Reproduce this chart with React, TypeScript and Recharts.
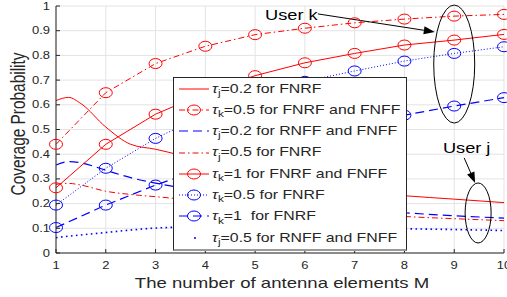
import React from 'react';
import { LineChart, Line, XAxis, YAxis, CartesianGrid, Legend, ReferenceDot, ReferenceLine } from 'recharts';

// antenna elements M (markers sit on these)
const elements = [1, 2, 3, 4, 5, 6, 7, 8, 9, 10];
const smoothM = [1, 1.25, 1.5, 2, 2.5, 3, 4, 5, 6, 7, 8, 9, 10];
const yTicks = [0, 0.1, 0.2, 0.3, 0.4, 0.5, 0.6, 0.7, 0.8, 0.9, 1];

// user j curves (smoothM)
const tauJ02Fnrf = [0.617, 0.63, 0.605, 0.51, 0.44, 0.42, 0.37, 0.32, 0.28, 0.25, 0.232, 0.218, 0.204];
const tauJ02Rnff = [0.356, 0.37, 0.365, 0.335, 0.305, 0.283, 0.25, 0.225, 0.2, 0.18, 0.163, 0.151, 0.141];
const tauJ05Fnrf = [0.278, 0.282, 0.275, 0.25, 0.237, 0.228, 0.21, 0.195, 0.18, 0.163, 0.148, 0.139, 0.131];
const tauJ05Rnff = [0.062, 0.068, 0.073, 0.083, 0.093, 0.101, 0.106, 0.106, 0.104, 0.101, 0.098, 0.095, 0.091];

// user k curves (elements)
const tauK05Both = [0.44, 0.649, 0.767, 0.837, 0.884, 0.91, 0.932, 0.947, 0.959, 0.966];
const tauK1Both = [0.264, 0.44, 0.562, 0.648, 0.718, 0.77, 0.808, 0.842, 0.862, 0.885];
const tauK05Fnrf = [0.194, 0.343, 0.464, 0.56, 0.64, 0.695, 0.737, 0.777, 0.808, 0.835];
const tauK1Fnrf = [0.103, 0.194, 0.275, 0.345, 0.405, 0.46, 0.51, 0.558, 0.595, 0.629];

const RED = '#ff0000';
const BLUE = '#0000ff';
const INK = '#262626';
const FONT = '"Liberation Sans", Arial, sans-serif';
const SX = 1.3; // reference glyphs are horizontally stretched

const pts = (xs: number[], ys: number[]) => xs.map((m, i) => ({ m, v: ys[i] }));

const series = [
  { key: 'a', sub: 'j', text: '=0.2 for FNRF', color: RED, dash: undefined, ring: false, width: 1, data: pts(smoothM, tauJ02Fnrf) },
  { key: 'b', sub: 'k', text: '=0.5 for FNRF and FNFF', color: RED, dash: '6 3 1.5 3', ring: true, width: 1, data: pts(elements, tauK05Both) },
  { key: 'c', sub: 'j', text: '=0.2 for RNFF and FNFF', color: BLUE, dash: '9 5', ring: false, width: 1.2, data: pts(smoothM, tauJ02Rnff) },
  { key: 'd', sub: 'j', text: '=0.5 for FNRF', color: RED, dash: '6 3 1.5 3', ring: false, width: 1, data: pts(smoothM, tauJ05Fnrf) },
  { key: 'e', sub: 'k', text: '=1 for FNRF and FNFF', color: RED, dash: undefined, ring: true, width: 1, data: pts(elements, tauK1Both) },
  { key: 'f', sub: 'k', text: '=0.5 for FNRF', color: BLUE, dash: '1 2', ring: true, width: 1, data: pts(elements, tauK05Fnrf) },
  { key: 'g', sub: 'k', text: '=1  for FNRF', color: BLUE, dash: '9 5', ring: true, width: 1.2, data: pts(elements, tauK1Fnrf) },
  { key: 'h', sub: 'j', text: '=0.5 for RNFF and FNFF', color: BLUE, dash: '1.6 3.4', ring: false, width: 1.6, data: pts(smoothM, tauJ05Rnff), dotOnly: true },
];

const ring = (color: string) => (p: any) => {
  if (p.cx == null || p.cy == null) return <g key={p.index} />;
  return <ellipse key={p.index} cx={p.cx} cy={p.cy} rx={6.5} ry={5} fill="none" stroke={color} strokeWidth={1} strokeDasharray="none" />;
};

const XTick = (p: any) => (
  <g transform={`translate(${p.x},${p.y})`}>
    <line x1={0} y1={-12} x2={0} y2={-16} stroke={INK} />
    <text transform={`scale(${SX},1)`} textAnchor="middle" dy="0.35em" fontSize={10} fill={INK} fontFamily={FONT}>
      {p.payload.value}
    </text>
  </g>
);

const YTick = (p: any) => (
  <g transform={`translate(${p.x},${p.y})`}>
    <line x1={6} y1={0} x2={10} y2={0} stroke={INK} />
    <text transform={`scale(${SX},1)`} textAnchor="end" dy="0.35em" fontSize={10} fill={INK} fontFamily={FONT}>
      {p.payload.value}
    </text>
  </g>
);

const TopTick = (p: any) => <line x1={p.x} y1={p.y} x2={p.x} y2={p.y + 4} stroke={INK} />;
const RightTick = (p: any) => <line x1={p.x} y1={p.y} x2={p.x - 4} y2={p.y} stroke={INK} />;

const XTitle = () => (
  <text transform={`translate(282,283) scale(${SX},1)`} textAnchor="middle" dy="0.35em" fontSize={14.3} fill={INK} fontFamily={FONT}>
    The number of antenna elements M
  </text>
);

const YTitle = () => (
  <text transform={`translate(18,124) scale(${SX},1) rotate(-90)`} textAnchor="middle" dy="0.35em" fontSize={15.4} fill={INK} fontFamily={FONT}>
    Coverage Probability
  </text>
);

const arrow = (p: any) => {
  const { x1, y1, x2, y2 } = p;
  const a = Math.atan2(y2 - y1, x2 - x1);
  const len = 11;
  const half = 4;
  const bx = x2 - len * Math.cos(a);
  const by = y2 - len * Math.sin(a);
  const q1 = `${bx + half * Math.sin(a)},${by - half * Math.cos(a)}`;
  const q2 = `${bx - half * Math.sin(a)},${by + half * Math.cos(a)}`;
  return (
    <g>
      <line x1={x1} y1={y1} x2={bx} y2={by} stroke="#000" strokeWidth={1} />
      <polygon points={`${x2},${y2} ${q1} ${q2}`} fill="#000" />
    </g>
  );
};

const ellipse = (rx: number, ry: number) => (p: any) => (
  <ellipse cx={p.cx} cy={p.cy} rx={rx} ry={ry} fill="none" stroke="#000" strokeWidth={1} />
);

const label = (txt: string, anchor: 'start' | 'middle') => (p: any) => (
  <text transform={`translate(${p.cx},${p.cy}) scale(${SX},1)`} textAnchor={anchor} dy="0.35em" fontSize={14} fill="#000" fontFamily={FONT}>
    {txt}
  </text>
);

const LegendBox = () => (
  <div
    style={{
      width: 234,
      height: 174,
      boxSizing: 'border-box',
      background: '#fff',
      border: `1px solid ${INK}`,
      borderBottom: '2px solid #9a9a9a',
      fontFamily: FONT,
      fontSize: 12.2,
      color: INK,
    }}
  >
    {series.map((s) => (
      <div key={s.key} style={{ height: 21.3, display: 'flex', alignItems: 'center' }}>
        <svg width={36} height={14} style={{ flex: 'none', marginLeft: 2 }}>
          {s.dotOnly ? (
            <circle cx={19} cy={7} r={1} fill={s.color} />
          ) : (
            <line x1={3} y1={7} x2={33} y2={7} stroke={s.color} strokeWidth={s.width} strokeDasharray={s.dash} />
          )}
          {s.ring && <ellipse cx={18} cy={7} rx={6.5} ry={5} fill="none" stroke={s.color} />}
        </svg>
        <span style={{ display: 'inline-block', transform: `scaleX(${SX})`, transformOrigin: 'left center', whiteSpace: 'pre', lineHeight: 1, marginLeft: 0 }}>
          <i>τ</i>
          <span style={{ fontSize: '0.75em', position: 'relative', top: '0.35em' }}>{s.sub}</span>
          {s.text}
        </span>
      </div>
    ))}
  </div>
);

export default function App() {
  return (
    <div style={{ position: 'absolute', left: 0, top: 0, width: 507, height: 297, background: '#fff' }}>
      <LineChart width={507} height={297} margin={{ top: 6, right: 3, left: 0, bottom: 0 }}>
        <CartesianGrid stroke="#e3e3e3" />
        <XAxis
          dataKey="m"
          type="number"
          domain={[1, 10]}
          ticks={elements}
          interval={0}
          height={44}
          tickSize={0}
          tickMargin={12}
          tick={<XTick />}
          axisLine={{ stroke: INK }}
          tickLine={false}
          label={<XTitle />}
          allowDuplicatedCategory={false}
        />
        <XAxis xAxisId="top" orientation="top" type="number" domain={[1, 10]} ticks={elements} interval={0} height={0} tickSize={0} tickMargin={0} tick={<TopTick />} axisLine={{ stroke: INK }} tickLine={false} />
        <YAxis
          type="number"
          domain={[0, 1]}
          ticks={yTicks}
          interval={0}
          width={56}
          tickSize={0}
          tickMargin={6}
          tick={<YTick />}
          axisLine={{ stroke: INK }}
          tickLine={false}
          label={<YTitle />}
        />
        <YAxis yAxisId="right" orientation="right" type="number" domain={[0, 1]} ticks={yTicks} interval={0} width={0} tickSize={0} tickMargin={0} tick={<RightTick />} axisLine={{ stroke: INK }} tickLine={false} />
        {series.map((s) => (
          <Line
            key={s.key}
            data={s.data}
            dataKey="v"
            type={s.ring ? 'linear' : 'monotone'}
            stroke={s.color}
            strokeWidth={s.width}
            strokeDasharray={s.dash}
            dot={s.ring ? ring(s.color) : false}
            activeDot={false}
            legendType="none"
            isAnimationActive={false}
          />
        ))}
        <ReferenceDot x={9} y={0.765} shape={ellipse(20.5, 59)} />
        <ReferenceLine segment={[{ x: 6.26, y: 0.968 }, { x: 8.61, y: 0.895 }]} shape={arrow} />
        <ReferenceDot x={5.2} y={0.964} shape={label('User k', 'start')} />
        <ReferenceDot x={9.48} y={0.162} shape={ellipse(13, 30)} />
        <ReferenceLine segment={[{ x: 9.2, y: 0.385 }, { x: 9.42, y: 0.283 }]} shape={arrow} />
        <ReferenceDot x={9.25} y={0.425} shape={label('User j', 'middle')} />
        <Legend
          layout="vertical"
          align="center"
          verticalAlign="middle"
          content={<LegendBox />}
          wrapperStyle={{ left: 173, top: 77, width: 234, height: 174 }}
        />
      </LineChart>
    </div>
  );
}
